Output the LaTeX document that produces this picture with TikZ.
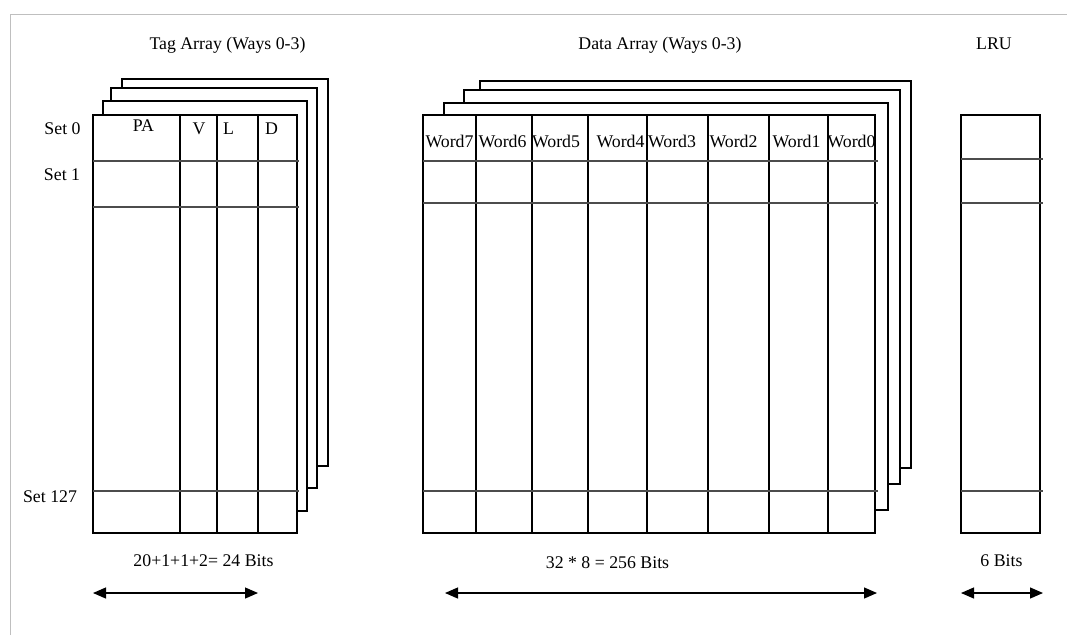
\documentclass[tikz,border=0pt]{standalone}
\usepackage{fontspec}
\setmainfont{Liberation Serif}
\usetikzlibrary{arrows.meta}
\begin{document}
\begin{tikzpicture}[x=1pt,y=-1pt,
  lbl/.style={anchor=base,inner sep=0pt,font=\fontsize{17.8}{21}\selectfont},
  cellline/.style={line width=1.2pt,draw=black},
  rowline/.style={line width=1.2pt,draw=black!70},
  waybox/.style={line width=1.2pt,draw=black,fill=white},
  dimarrow/.style={line width=1.2pt,draw=black,{Triangle[length=13pt,width=11pt]}-{Triangle[length=13pt,width=11pt]}},
  pageframe/.style={line width=1pt,draw=black!25}]
\useasboundingbox (0,0) rectangle (1067,635);
% page frame
\draw[pageframe] (10,635) -- (10,14) -- (1067,14);

% titles
\node[lbl] (tagtitle) at (227.5,49) {Tag Array (Ways 0-3)};
\node[lbl] (datatitle) at (660,49) {Data Array (Ways 0-3)};
\node[lbl] (lrutitle) at (994,49) {LRU};

% ---------- Tag array ----------
\draw[waybox] (122,79) rectangle (328,466);
\draw[waybox] (111,88) rectangle (317,488);
\draw[waybox] (103,101) rectangle (307,511);
\draw[waybox] (93,115) rectangle (297,533);
\foreach \x in {180,217,258} \draw[cellline] (\x,115) -- (\x,534);
\foreach \y in {161,207,491} \draw[rowline] (93,\y) -- (299,\y);

\node[lbl] (pa) at (143.5,131.5) {PA};
\node[lbl] (vbit) at (199,134) {V};
\node[lbl] (lbit) at (228.5,134) {L};
\node[lbl] (dbit) at (271.5,134) {D};

\node[lbl] (set0) at (62.5,134.5) {Set 0};
\node[lbl] (set1) at (62,180) {Set 1};
\node[lbl] (set127) at (50,502) {Set 127};

% ---------- Data array ----------
\draw[waybox] (480,81) rectangle (911,468);
\draw[waybox] (464,90) rectangle (900,484);
\draw[waybox] (444,103) rectangle (888,510);
\draw[waybox] (423,115) rectangle (875,533);
\foreach \x in {476,532,588,647,708,769,828} \draw[cellline] (\x,115) -- (\x,534);
\foreach \y in {161,203,491} \draw[rowline] (423,\y) -- (878,\y);

\node[lbl] (w7) at (449.5,147) {Word7};
\node[lbl] (w6) at (502.5,147) {Word6};
\node[lbl] (w5) at (556,147) {Word5};
\node[lbl] (w4) at (620.5,147) {Word4};
\node[lbl] (w3) at (672,147) {Word3};
\node[lbl] (w2) at (733.5,147) {Word2};
\node[lbl] (w1) at (796.5,147) {Word1};
\node[lbl] (w0) at (851.5,147) {Word0};

% ---------- LRU ----------
\draw[waybox] (961,115) rectangle (1040,533);
\foreach \y in {159,203,491} \draw[rowline] (961,\y) -- (1043,\y);

% ---------- widths ----------
\node[lbl] (tagbits) at (203.5,566) {20+1+1+2= 24 Bits};
\node[lbl] (databits) at (607.5,568) {32 * 8 = 256 Bits};
\node[lbl] (lrubits) at (1001.5,566) {6 Bits};

\coordinate (tagL) at (93,593);
\coordinate (tagR) at (258,593);
\coordinate (dataL) at (445,593);
\coordinate (dataR) at (877,593);
\coordinate (lruL) at (961,593);
\coordinate (lruR) at (1043,593);
\draw[dimarrow] (tagL) -- (tagR);
\draw[dimarrow] (dataL) -- (dataR);
\draw[dimarrow] (lruL) -- (lruR);
\end{tikzpicture}
\end{document}
